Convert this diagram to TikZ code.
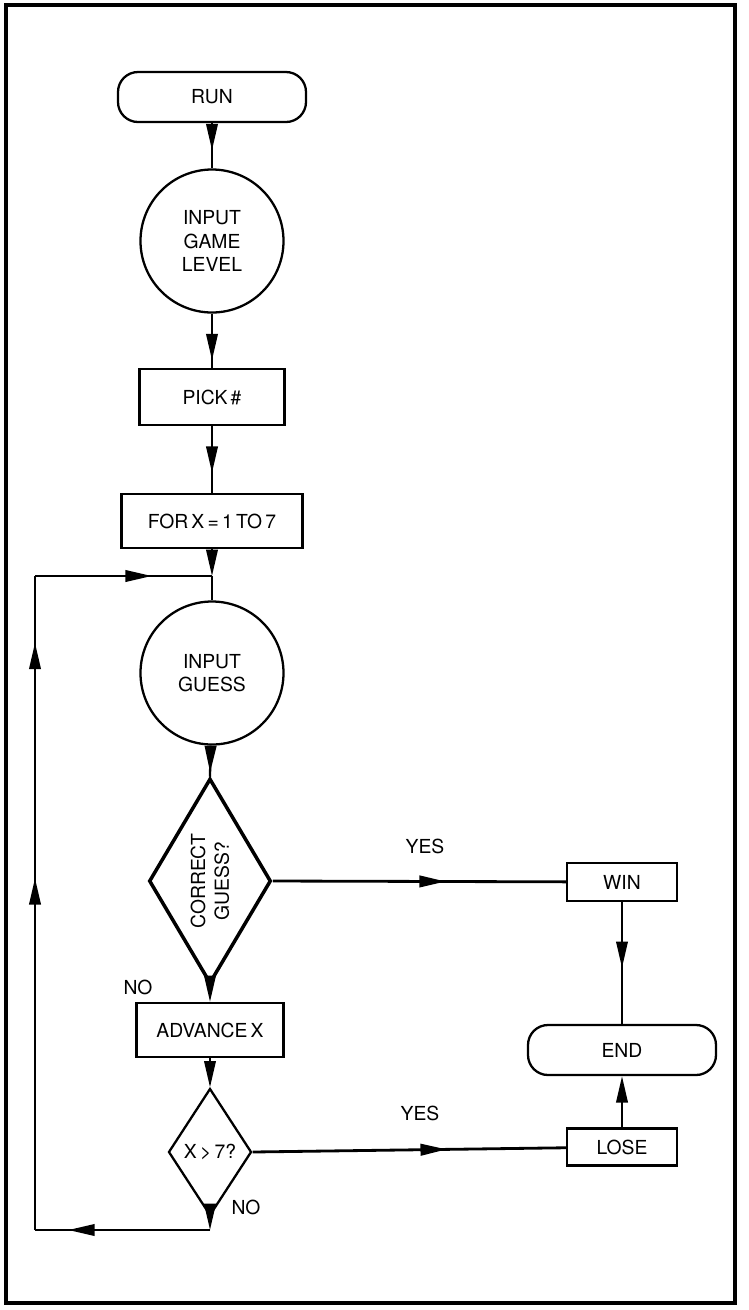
\documentclass[tikz,border=0pt]{standalone}
\usepackage{fontspec}
\setmainfont{TeX Gyre Heros}
\usetikzlibrary{shapes.geometric,arrows.meta,decorations.markings}

\begin{document}
\begin{tikzpicture}[x=0.2mm,y=-0.2mm,
  font=\fontsize{11}{13.5}\selectfont,
  line width=1.3pt,
  >={Triangle[length=15pt,width=6.5pt]},
  terminal/.style={draw,rounded corners=4mm,minimum width=37.6mm,minimum height=10mm},
  inout/.style={draw,circle,minimum size=28.6mm,inner sep=0pt,align=center},
  process/.style={draw,inner sep=0pt},
  choice/.style={draw,diamond,inner sep=0pt,align=center},
  midhead/.style={postaction={decorate},decoration={markings,mark=at position #1 with {\arrow{>}}}},
  midheads/.style 2 args={postaction={decorate},decoration={markings,
    mark=at position #1 with {\arrow{>}},mark=at position #2 with {\arrow{>}}}}
]
\useasboundingbox (0,0) rectangle (749,1310);
\draw[line width=2.2pt] (6,5) rectangle (735,1303);

\node[terminal] (run) at (212,97) {RUN};
\node[inout] (level) at (212,241) {INPUT\\GAME\\LEVEL};
\node[process,minimum width=29mm,minimum height=11.2mm] (pick) at (212,397) {PICK\,\#};
\node[process,minimum width=36.2mm,minimum height=10.8mm] (loopfor) at (212,521) {FOR\,X\,=\,1\,TO\,7};
\node[inout] (guess) at (212,673) {INPUT\\GUESS};
\node[choice,rotate=90,shape aspect=2,minimum width=41mm,minimum height=24.4mm,line width=2pt] (correct) at (210,881) {CORRECT\\GUESS?};
\node[process,minimum width=29.4mm,minimum height=10.8mm] (advance) at (210,1030) {ADVANCE\,X};
\node[choice,minimum width=16.6mm,minimum height=25.4mm] (over) at (210,1152) {X\,>\,7?};
\node[process,minimum width=22mm,minimum height=7.6mm] (win) at (622,882) {WIN};
\node[terminal] (finish) at (622,1050) {END};
\node[process,minimum width=22mm,minimum height=7.4mm] (lose) at (622,1147) {LOSE};

\node (yeswin) at (425,846) {YES};
\node (yeslose) at (420,1113) {YES};
\node (noguess) at (138,987) {NO};
\node (noover) at (246,1207) {NO};

\coordinate (join) at (212,576);
\coordinate (back) at (210,1230);
\coordinate (corner) at (35,1230);
\coordinate (cornertop) at (35,576);

\draw[midhead=0.6] (run) -- (level);
\draw[midhead=0.86] (level) -- (pick);
\draw[midhead=0.7] (pick) -- (loopfor);
\draw[->] (loopfor) -- (join);
\draw (join) -- (guess);
\draw[midhead=0.86] (guess) -- (correct.east);
\draw[->] (correct.west) -- (advance);
\draw[->] (advance) -- (over.north);
\draw[->] (over.south) -- (back);
\draw[midhead=0.81] (back) -- (corner);
\draw[midheads={0.538}{0.898}] (corner) -- (cornertop);
\draw[midhead=0.66] (cornertop) -- (join);

\draw[midhead=0.59,line width=1.6pt] (correct.south) -- (win);
\draw[midhead=0.62,line width=1.6pt] (over.east) -- (lose);
\draw[midhead=0.54] (win) -- (finish);
\draw[->] (lose) -- (finish);
\end{tikzpicture}
\end{document}
